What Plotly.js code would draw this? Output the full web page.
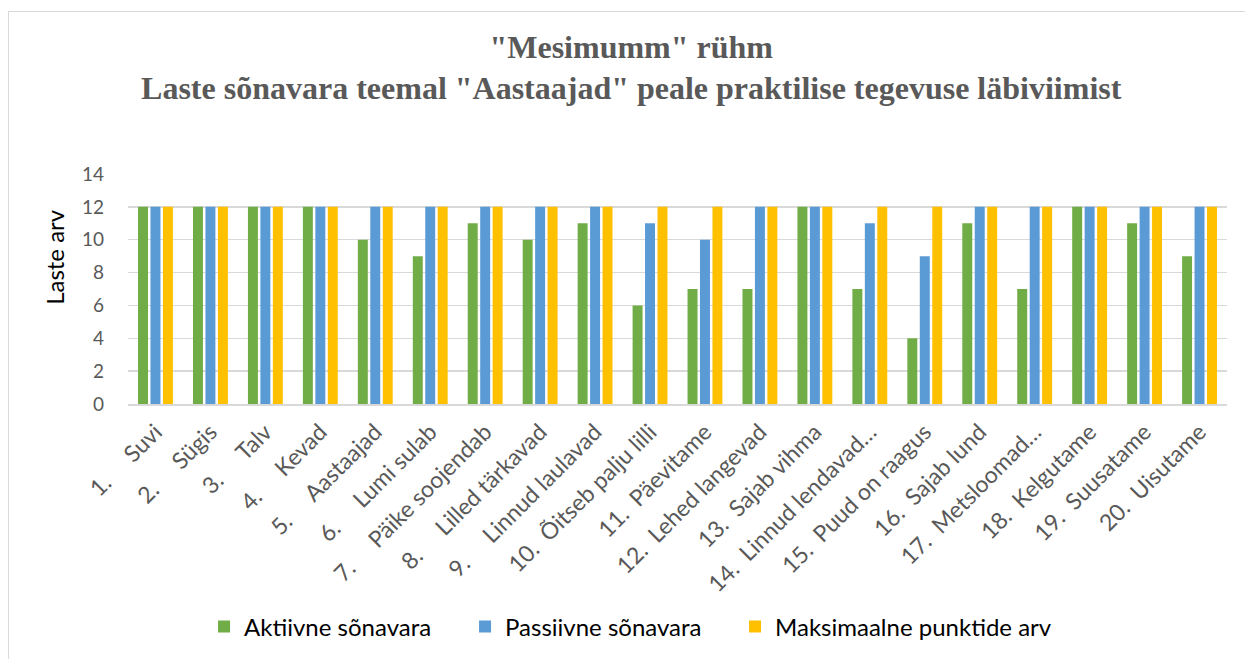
<!DOCTYPE html>
<html>
<head>
<meta charset="utf-8">
<script src="https://cdn.plot.ly/plotly-3.0.1.min.js"></script>
<style>
  html, body { margin: 0; padding: 0; background: #ffffff; }
  #wrap { position: relative; width: 1245px; height: 659px; overflow: hidden; }
  #chart { width: 1245px; height: 659px; }
  #frame { position: absolute; left: 8px; top: 11px; width: 1260px; height: 680px;
           border-left: 1px solid #d9d9d9; border-top: 1px solid #d9d9d9; pointer-events: none; }
</style>
</head>
<body>
<div id="wrap">
  <div id="chart"></div>
  <div id="frame"></div>
</div>
<script>
var NB = '\u00a0';
function tab(n) { return NB.repeat(n); }

var categories = [
  '1.' + tab(5) + 'Suvi',
  '2.' + tab(5) + 'Sügis',
  '3.' + tab(5) + 'Talv',
  '4.' + tab(5) + 'Kevad',
  '5.' + tab(5) + 'Aastaajad',
  '6.' + tab(5) + 'Lumi sulab',
  '7.' + tab(5) + 'Päike soojendab',
  '8.' + tab(5) + 'Lilled tärkavad',
  '9.' + tab(5) + 'Linnud laulavad',
  '10.' + tab(2) + 'Õitseb palju lilli',
  '11.' + tab(2) + 'Päevitame',
  '12.' + tab(2) + 'Lehed langevad',
  '13.' + tab(2) + 'Sajab vihma',
  '14.' + tab(2) + 'Linnud lendavad…',
  '15.' + tab(2) + 'Puud on raagus',
  '16.' + tab(2) + 'Sajab lund',
  '17.' + tab(2) + 'Metsloomad…',
  '18.' + tab(2) + 'Kelgutame',
  '19.' + tab(2) + 'Suusatame',
  '20.' + tab(2) + 'Uisutame'
];

var aktiivne  = [12, 12, 12, 12, 10, 9, 11, 10, 11, 6, 7, 7, 12, 7, 4, 11, 7, 12, 11, 9];
var passiivne = [12, 12, 12, 12, 12, 12, 12, 12, 12, 11, 10, 12, 12, 11, 9, 12, 12, 12, 12, 12];
var maksimaalne = [12, 12, 12, 12, 12, 12, 12, 12, 12, 12, 12, 12, 12, 12, 12, 12, 12, 12, 12, 12];

var seriesNames = ['Aktiivne sõnavara', 'Passiivne sõnavara', 'Maksimaalne punktide arv'];
var yTicks = [0, 2, 4, 6, 8, 10, 12, 14];

var titleText = '"Mesimumm" rühm<br>Laste sõnavara teemal "Aastaajad" peale praktilise tegevuse läbiviimist';

var sans = 'Lato, "Open Sans", sans-serif';

var traces = [
  { type: 'bar', name: seriesNames[0], x: categories, y: aktiivne,
    marker: { color: '#70AD47' }, hoverinfo: 'y', legendwidth: 216 },
  { type: 'bar', name: seriesNames[1], x: categories, y: passiivne,
    marker: { color: '#5B9BD5' }, hoverinfo: 'y', legendwidth: 225 },
  { type: 'bar', name: seriesNames[2], x: categories, y: maksimaalne,
    marker: { color: '#FFC000' }, hoverinfo: 'y', legendwidth: 290 }
];

var layout = {
  width: 1245,
  height: 659,
  paper_bgcolor: 'rgba(0,0,0,0)',
  plot_bgcolor: '#ffffff',
  margin: { l: 128, r: 18, t: 174, b: 254, pad: 0 },
  barmode: 'group',
  bargap: 0.32,
  bargroupgap: 0.2,
  showlegend: true,
  title: {
    text: titleText,
    font: { family: '"Liberation Serif", "Times New Roman", serif', size: 32, color: '#595959', weight: 'bold' },
    xref: 'container', x: 0.507, xanchor: 'center',
    yref: 'container', y: 0.9125, yanchor: 'top'
  },
  xaxis: {
    type: 'category',
    tickangle: -45,
    tickfont: { family: sans, size: 23, color: '#595959' },
    showgrid: false,
    showline: true,
    linecolor: '#d9d9d9',
    linewidth: 1.5,
    ticks: '',
    ticklabelstandoff: 4,
    automargin: false,
    fixedrange: true
  },
  yaxis: {
    range: [0, 14],
    tickvals: yTicks,
    ticktext: yTicks.map(String),
    tickfont: { family: sans, size: 19, color: '#595959' },
    showgrid: true,
    gridcolor: '#d9d9d9',
    gridwidth: 1.5,
    zeroline: false,
    showline: false,
    ticks: '',
    ticklabelstandoff: 23,
    automargin: false,
    fixedrange: true
  },
  legend: {
    orientation: 'h',
    x: 0.0692, xanchor: 'left',
    y: -0.961, yanchor: 'middle',
    font: { family: sans, size: 24, color: '#000000' },
    bgcolor: 'rgba(0,0,0,0)',
    traceorder: 'normal'
  },
  annotations: [
    {
      text: 'Laste arv',
      xref: 'paper', yref: 'paper',
      x: -0.0664, y: 0.64,
      xanchor: 'center', yanchor: 'middle',
      textangle: -90,
      showarrow: false,
      font: { family: sans, size: 24, color: '#000000' }
    }
  ]
};

Plotly.newPlot('chart', traces, layout, { displayModeBar: false, staticPlot: true });
</script>
</body>
</html>
